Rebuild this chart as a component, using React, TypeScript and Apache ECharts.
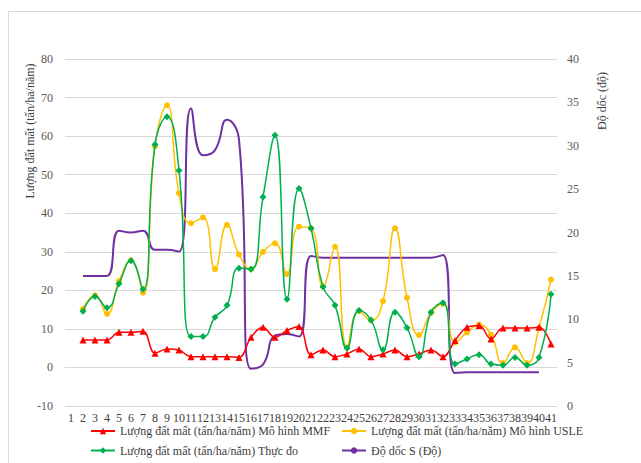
import React, { useEffect, useRef } from "react";
import * as echarts from "echarts";

const categories: string[] = Array.from({ length: 41 }, (_, i) => String(i + 1));

const mmf: (number | null)[] = [
  null, 7.1, 7.1, 7.1, 9.1, 9.1, 9.4, 3.7, 4.8, 4.5, 2.8, 2.8, 2.8, 2.8, 2.6, 7.8,
  10.4, 7.8, 9.6, 10.6, 3.3, 4.5, 2.8, 3.5, 4.8, 2.8, 3.5, 4.5, 2.8, 3.5, 4.5, 2.8,
  7.0, 10.4, 10.9, 7.4, 10.2, 10.2, 10.2, 10.4, 6.1,
];

const usle: (number | null)[] = [
  null, 15.2, 18.7, 13.9, 22.4, 27.8, 19.4, 57.4, 68, 45.2, 37.4, 38.9, 25.5, 37, 29.3, 25.5,
  30, 32.2, 24.2, 36.5, 36.1, 21, 31.3, 5.2, 14.6, 12.2, 17.2, 36.1, 18.1, 8.4, 14.1, 16.5,
  6.5, 9.1, 11.1, 8.5, 1.1, 5.2, 1.1, 10.3, 22.8,
];

const measured: (number | null)[] = [
  null, 14.6, 18.4, 15.5, 21.7, 27.7, 20.3, 57.8, 65, 51.1, 8.0, 8.0, 13, 16.1, 25.7, 25.5,
  44.2, 60.2, 17.7, 46.4, 36.1, 20.9, 16.1, 5, 14.8, 12.3, 4.6, 14.3, 10.3, 2.8, 14.3, 16.8,
  0.9, 2.2, 3.3, 0.9, 0.6, 2.6, 0.6, 2.6, 19,
];

const slope: (number | null)[] = [
  null, 15, 15, 15, 20.2, 20, 20.2, 18, 18, 17.8, 34.3, 28.9, 29.5, 33, 30.7, 4.3,
  4.8, 8.1, 8.3, 8.0, 17.3, 17.1, 17.1, 17.1, 17.1, 17.1, 17.1, 17.1, 17.1, 17.1, 17.1, 17.4,
  3.8, 3.9, 3.9, 3.9, 3.9, 3.9, 3.9, 3.9, null,
];

const leftTicks = { min: -10, max: 80, interval: 10 };
const rightTicks = { min: 0, max: 40, interval: 5 };

const names = {
  mmf: "Lượng đất mất (tấn/ha/năm) Mô hình MMF",
  usle: "Lượng đất mất (tấn/ha/năm) Mô hình USLE",
  measured: "Lượng đất mất (tấn/ha/năm) Thực đo",
  slope: "Độ dốc S (Độ)",
};

const FONT = "Liberation Serif";

export default function App() {
  const ref = useRef<HTMLDivElement>(null);
  useEffect(() => {
    if (!ref.current) return;
    const chart = echarts.init(ref.current, null, { renderer: "svg" });
    const lbl = { fontFamily: FONT, fontSize: 12, color: "#595959" };
    const legendBase = {
      orient: "vertical",
      top: 425,
      height: 80,
      padding: 0,
      itemWidth: 24,
      itemHeight: 8,
      itemGap: 7.5,
      textStyle: { fontFamily: FONT, fontSize: 12, color: "#404040" },
    };
    chart.setOption({
      animation: false,
      backgroundColor: "#ffffff",
      textStyle: { fontFamily: FONT },
      grid: { left: 65, top: 59, width: 492, height: 347, containLabel: false },
      graphic: [
        {
          type: "rect",
          shape: { x: 8.5, y: 11.5, width: 700, height: 500 },
          style: { fill: "none", stroke: "#d9d9d9", lineWidth: 1 },
          silent: true,
        },
        {
          type: "text",
          x: 30,
          y: 131,
          rotation: Math.PI / 2,
          style: {
            text: "Lượng đất mất (tấn/ha/năm)",
            fontFamily: FONT,
            fontSize: 12,
            fill: "#404040",
            align: "center",
            verticalAlign: "middle",
          },
        },
        {
          type: "text",
          x: 602,
          y: 101,
          rotation: Math.PI / 2,
          style: {
            text: "Độ dốc (độ)",
            fontFamily: FONT,
            fontSize: 12,
            fill: "#404040",
            align: "center",
            verticalAlign: "middle",
          },
        },
      ],
      legend: [
        { ...legendBase, data: [names.mmf, names.measured], left: 90 },
        { ...legendBase, data: [names.usle, names.slope], left: 341 },
      ],
      xAxis: {
        type: "category",
        data: categories,
        boundaryGap: true,
        axisLine: { show: true, onZero: true, onZeroAxisIndex: 0, lineStyle: { color: "#d9d9d9", width: 1 } },
        axisTick: { show: false },
        axisLabel: { interval: 0, margin: 6, fontFamily: FONT, fontSize: 12, color: "#404040" },
        splitLine: { show: false },
      },
      yAxis: [
        {
          type: "value",
          min: leftTicks.min,
          max: leftTicks.max,
          interval: leftTicks.interval,
          axisLine: { show: false },
          axisTick: { show: false },
          axisLabel: { ...lbl, margin: 12 },
          splitLine: { show: true, lineStyle: { color: "#d9d9d9", width: 1.2 } },
        },
        {
          type: "value",
          position: "right",
          min: rightTicks.min,
          max: rightTicks.max,
          interval: rightTicks.interval,
          axisLine: { show: false },
          axisTick: { show: false },
          axisLabel: { ...lbl, margin: 10 },
          splitLine: { show: false },
        },
      ],
      series: [
        {
          name: names.mmf,
          type: "line",
          data: mmf,
          yAxisIndex: 0,
          smooth: 0.4,
          symbol: "triangle",
          symbolSize: 7,
          lineStyle: { color: "#ff0000", width: 1.5 },
          itemStyle: { color: "#ff0000" },
          z: 4,
        },
        {
          name: names.usle,
          type: "line",
          data: usle,
          yAxisIndex: 0,
          smooth: true,
          symbol: "circle",
          symbolSize: 6,
          lineStyle: { color: "#ffc000", width: 1.5 },
          itemStyle: { color: "#ffc000" },
          z: 3,
        },
        {
          name: names.measured,
          type: "line",
          data: measured,
          yAxisIndex: 0,
          smooth: true,
          symbol: "diamond",
          symbolSize: 7,
          lineStyle: { color: "#00b050", width: 1.5 },
          itemStyle: { color: "#00b050" },
          z: 5,
        },
        {
          name: names.slope,
          type: "line",
          data: slope,
          yAxisIndex: 1,
          smooth: true,
          symbol: "none",
          lineStyle: { color: "#7030a0", width: 2 },
          itemStyle: { color: "#7030a0" },
          z: 2,
        },
      ],
    });
    return () => chart.dispose();
  }, []);
  return (
    <div
      ref={ref}
      style={{ position: "absolute", left: 0, top: 0, width: 641, height: 463, background: "#fff" }}
    />
  );
}
